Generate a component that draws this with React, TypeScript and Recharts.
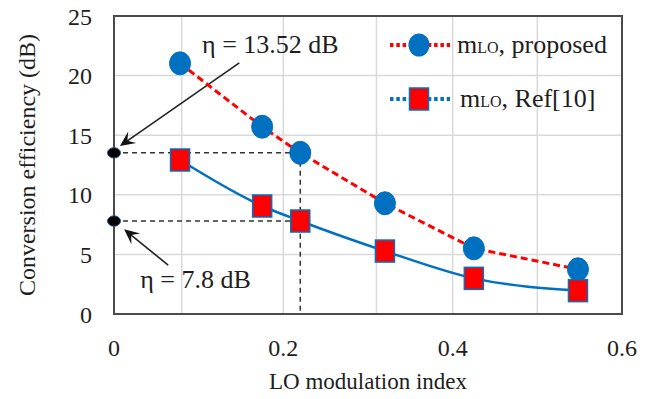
import React from 'react';
import {
  LineChart,
  Line,
  XAxis,
  YAxis,
  CartesianGrid,
  ReferenceLine,
  ReferenceDot,
  ReferenceArea,
} from 'recharts';

// LO modulation index (x) and conversion efficiency in dB for both designs
const modIndex = [0.078, 0.175, 0.22, 0.32, 0.425, 0.548];
const proposedEff = [21.03, 15.71, 13.52, 9.29, 5.51, 3.75];
const ref10Eff = [12.92, 9.06, 7.8, 5.28, 2.99, 1.96];

const xTicks = [0, 0.2, 0.4, 0.6];
const yTicks = [0, 5, 10, 15, 20, 25];
const xGridValues = [0.08, 0.2, 0.31, 0.4, 0.5];

// highlighted operating point
const etaIndex = 0.22;
const etaProposed = 13.52;
const etaRef = 7.8;

// callout anchors, in axis units
const calloutProposedText = { x: 0.104, y: 21.9 };
const calloutProposedArrow = [
  { x: 0.148, y: 21.06 },
  { x: 0.007, y: 14.1 },
];
const calloutRefText = { x: 0.031, y: 2.2 };
const calloutRefArrow = [
  { x: 0.064, y: 4.1 },
  { x: 0.012, y: 7.1 },
];

const data = modIndex.map((m, i) => ({
  m,
  proposed: proposedEff[i],
  ref10: ref10Eff[i],
}));

const BLUE = '#0070C0';
const RED = '#FF0000';
const GRID = '#D9D9D9';
const FRAME = '#4a4a4a';
const INK = '#1e1e1e';
const SERIF = "'Liberation Serif', 'Times New Roman', serif";

const W = 656;
const H = 399;

const CircleMarker = (props: any) => {
  const { cx, cy } = props;
  if (cx == null || cy == null) return null;
  return <ellipse cx={cx} cy={cy} rx={10.5} ry={11.5} fill={BLUE} stroke={BLUE} strokeWidth={1} />;
};

const SquareMarker = (props: any) => {
  const { cx, cy } = props;
  if (cx == null || cy == null) return null;
  return (
    <rect x={cx - 9.5} y={cy - 11} width={19} height={22} fill={RED} stroke={BLUE} strokeWidth={1.5} />
  );
};

const DashedGuide = (props: any) => {
  const { x1, y1, x2, y2 } = props;
  return (
    <line x1={x1} y1={y1} x2={x2} y2={y2} stroke="#333" strokeWidth={1.5} strokeDasharray="5 4" />
  );
};

const ArrowShape = (props: any) => {
  const { x1, y1, x2, y2 } = props;
  const ang = Math.atan2(y2 - y1, x2 - x1);
  const len = 15;
  const half = 7;
  const notch = 9;
  const cos = Math.cos(ang);
  const sin = Math.sin(ang);
  const bx = x2 - len * cos;
  const by = y2 - len * sin;
  const p1 = `${x2},${y2}`;
  const p2 = `${bx - half * sin},${by + half * cos}`;
  const p3 = `${x2 - notch * cos},${y2 - notch * sin}`;
  const p4 = `${bx + half * sin},${by - half * cos}`;
  return (
    <g>
      <line x1={x1} y1={y1} x2={x2 - notch * cos} y2={y2 - notch * sin} stroke="#222" strokeWidth={1.6} />
      <polygon points={`${p1} ${p2} ${p3} ${p4}`} fill="#111" />
    </g>
  );
};

const AxisDot = (props: any) => {
  const { cx, cy } = props;
  return <ellipse cx={cx} cy={cy} rx={6.5} ry={5.2} fill="#000" stroke="#2f4f8f" strokeWidth={1} />;
};

const calloutText = (txt: string) => (props: any) => (
  <text x={props.cx} y={props.cy} fontFamily={SERIF} fontSize={26} fill={INK} textAnchor="start">
    {txt}
  </text>
);

const Legend = () => (
  <svg
    width={260}
    height={110}
    style={{ position: 'absolute', left: 380, top: 20 }}
  >
    {/* proposed */}
    <line x1={10} y1={25} x2={70} y2={25} stroke={RED} strokeWidth={4} strokeDasharray="3.5 2.8" />
    <ellipse cx={39} cy={25} rx={10.5} ry={11.5} fill={BLUE} />
    <text x={77} y={33} fontFamily={SERIF} fontSize={26} fill={INK}>
      m<tspan fontSize={16}>LO</tspan>, proposed
    </text>
    {/* Ref[10] */}
    <line x1={10} y1={79} x2={70} y2={79} stroke={BLUE} strokeWidth={4} strokeDasharray="3.5 2.8" />
    <rect x={29.5} y={68} width={19} height={22} fill={RED} stroke={BLUE} strokeWidth={1.5} />
    <text x={80} y={87} fontFamily={SERIF} fontSize={26} fill={INK}>
      m<tspan fontSize={16}>LO</tspan>, Ref[10]
    </text>
  </svg>
);

export default function App() {
  return (
    <div style={{ position: 'absolute', left: 0, top: 0, width: W, height: H, background: '#fff' }}>
      <LineChart width={W} height={H} data={data} margin={{ top: 16, right: 34, bottom: 0, left: 0 }}>
        <CartesianGrid stroke={GRID} strokeWidth={1.5} verticalValues={xGridValues} horizontalValues={yTicks} />
        <XAxis
          dataKey="m"
          type="number"
          domain={[0, 0.6]}
          ticks={xTicks}
          height={85}
          tickSize={0}
          tickMargin={25}
          axisLine={false}
          tickLine={false}
          tick={{ fill: INK, fontSize: 24, fontFamily: SERIF }}
          tickFormatter={(v: number) => String(v)}
          label={(p: any) => {
            const vb = p.viewBox;
            return (
              <text x={vb.x + vb.width / 2} y={vb.y + 75} textAnchor="middle" fontFamily={SERIF} fontSize={23} fill={INK}>
                LO modulation index
              </text>
            );
          }}
        />
        <YAxis
          type="number"
          domain={[0, 25]}
          ticks={yTicks}
          width={114}
          tickSize={0}
          tickMargin={22}
          axisLine={false}
          tickLine={false}
          tick={{ fill: INK, fontSize: 24, fontFamily: SERIF }}
          label={(p: any) => {
            const vb = p.viewBox;
            const cx = 27;
            const cy = vb.y + vb.height / 2;
            return (
              <text
                x={cx}
                y={cy}
                transform={`rotate(-90 ${cx} ${cy})`}
                textAnchor="middle"
                dominantBaseline="central"
                fontFamily={SERIF}
                fontSize={24}
                fill={INK}
              >
                Conversion efficiency (dB)
              </text>
            );
          }}
        />
        <ReferenceArea x1={0} x2={0.6} y1={0} y2={25} fill="none" stroke={FRAME} strokeWidth={2} fillOpacity={0} />

        {/* guides to the highlighted operating point */}
        <ReferenceLine segment={[{ x: 0, y: etaProposed }, { x: etaIndex, y: etaProposed }]} shape={DashedGuide} />
        <ReferenceLine segment={[{ x: etaIndex, y: etaProposed }, { x: etaIndex, y: 0 }]} shape={DashedGuide} />
        <ReferenceLine segment={[{ x: 0, y: etaRef }, { x: etaIndex, y: etaRef }]} shape={DashedGuide} />
        <ReferenceLine segment={calloutProposedArrow} shape={ArrowShape} />
        <ReferenceLine segment={calloutRefArrow} shape={ArrowShape} />
        <ReferenceDot x={0} y={etaProposed} r={6} shape={AxisDot} />
        <ReferenceDot x={0} y={etaRef} r={6} shape={AxisDot} />
        <ReferenceDot x={calloutProposedText.x} y={calloutProposedText.y} r={0} shape={calloutText(`η = ${etaProposed} dB`)} />
        <ReferenceDot x={calloutRefText.x} y={calloutRefText.y} r={0} shape={calloutText(`η = ${etaRef} dB`)} />

        <Line
          dataKey="proposed"
          type="linear"
          stroke={RED}
          strokeWidth={3}
          strokeDasharray="7 4"
          dot={<CircleMarker />}
          activeDot={false}
          isAnimationActive={false}
        />
        <Line
          dataKey="ref10"
          type="monotone"
          stroke={BLUE}
          strokeWidth={2.5}
          dot={<SquareMarker />}
          activeDot={false}
          isAnimationActive={false}
        />
      </LineChart>
      <Legend />
    </div>
  );
}
